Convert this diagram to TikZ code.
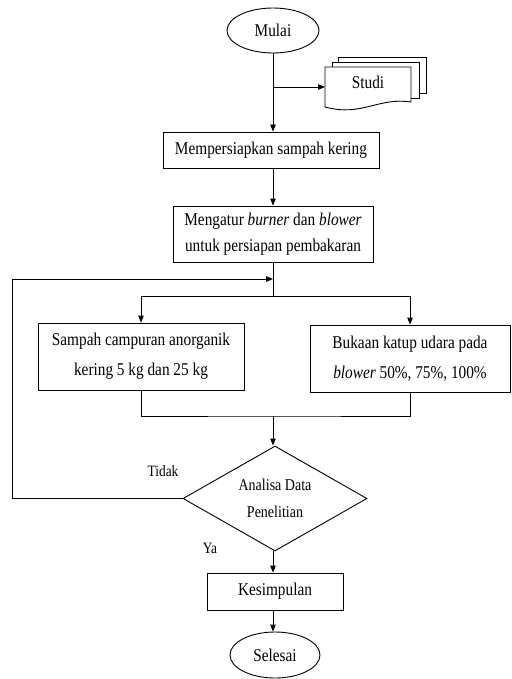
\documentclass[tikz,border=0pt]{standalone}
\usepackage{fontspec}
\setmainfont{Liberation Serif}[FakeStretch=0.85]
\usetikzlibrary{arrows.meta,shapes.geometric}
\begin{document}
\begin{tikzpicture}[x=1pt,y=-1pt,
  line width=0.9pt,
  every node/.style={font=\fontsize{18}{26}\selectfont},
  term/.style={draw,ellipse,minimum width=#1,minimum height=45pt,inner sep=0pt},
  proc/.style={draw,rectangle,align=center,inner sep=0pt},
  decide/.style={draw,diamond,aspect=1.75,minimum width=184pt,minimum height=105pt,inner sep=0pt,align=center},
  flow/.style={-{Triangle[length=7pt,width=5.5pt]}},
  lbl/.style={inner sep=0pt}
]
\useasboundingbox (0,0) rectangle (511,679);

% start / end terminals
\node[term=92pt] (mulai) at (273,30.5) {Mulai};
\node[term=90pt,minimum height=46pt] (selesai) at (275,655) {Selesai};

% process steps
\node[proc,minimum width=216pt,minimum height=36pt] (siap) at (271,150) {Mempersiapkan sampah kering};
\node[proc,minimum width=200pt,minimum height=56pt] (atur) at (273,234)
  {Mengatur \textit{burner} dan \textit{blower}\\untuk persiapan pembakaran};
\node[proc,minimum width=206pt,minimum height=67pt,font=\fontsize{18}{30}\selectfont] (sampah) at (141,356.5)
  {Sampah campuran anorganik\\kering 5 kg dan 25 kg};
\node[proc,minimum width=200pt,minimum height=67pt,font=\fontsize{18}{30}\selectfont] (katup) at (410,358.5)
  {Bukaan katup udara pada\\\textit{blower} 50\%, 75\%, 100\%};
\node[decide,font=\fontsize{16.5}{27}\selectfont] (analisa) at (275,498.5) {Analisa Data\\Penelitian};
\node[proc,minimum width=136pt,minimum height=37pt] (simpul) at (275,591.5) {Kesimpulan};

% stacked documents "Studi"
\draw[fill=white] (338,57) rectangle (426,93);
\draw[fill=white] (332,62) rectangle (419,98);
\draw[fill=white] (325,67) -- (411,67) -- (411,102)
  .. controls (378,97) and (362,117) .. (325,107) -- cycle;
\node (studi) at (368,82) {Studi};
\coordinate (studiL) at (325,87);

% junction points
\coordinate (tap) at (273,87);
\coordinate (back) at (273,279);
\coordinate (split) at (273,296);
\coordinate (join) at (273,416);
\coordinate (loopx) at (12,498.5);

% connectors
\draw[flow] (mulai.south) -- (siap.north -| mulai.south);
\draw[flow] (tap) -- (studiL);
\draw[flow] (siap.south -| atur.north) -- (atur.north);
\draw (atur.south) -- (split);
\draw[flow] (split) -| (sampah.north);
\draw[flow] (split) -| (katup.north);
\draw (sampah.south) |- (join) -| (katup.south);
\draw[flow] (join) -- (analisa.north -| join);
\draw[flow] (analisa.west) -- (loopx) |- (back);
\draw[flow] (analisa.south -| join) -- (simpul.north -| join);
\draw[flow] (simpul.south -| join) -- (selesai.north -| join);

% decision labels
\node[lbl,font=\fontsize{15.8}{18}\selectfont] (tidak) at (163,471) {Tidak};
\node[lbl,font=\fontsize{15.8}{18}\selectfont] (ya) at (210,548) {Ya};
\end{tikzpicture}
\end{document}
